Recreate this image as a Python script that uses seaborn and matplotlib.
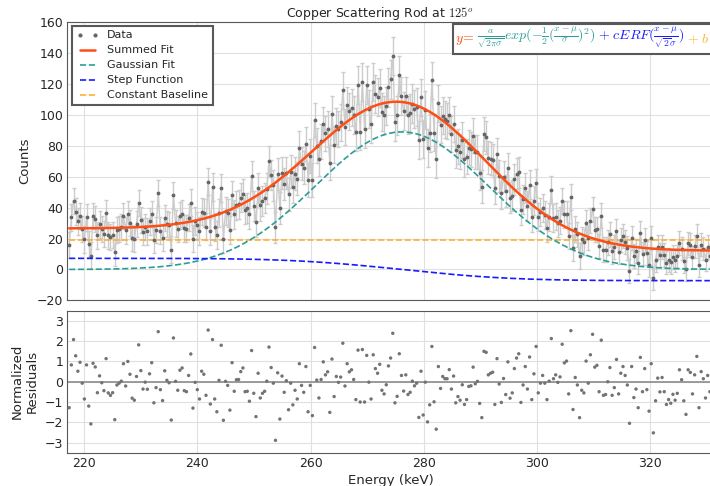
import math
import numpy as np
import matplotlib
matplotlib.use("Agg")
import matplotlib.pyplot as plt
import seaborn as sns
from matplotlib.lines import Line2D
from matplotlib.offsetbox import TextArea, HPacker, AnchoredOffsetbox

# energy of the first channel and channel width (keV)
e_start = 217.33
e_step = 0.3837

# measured counts per channel
counts = [
    15.8, 33.6, 44.2, 37.4, 31.0, 34.7, 26.0, 19.4, 33.6, 16.4,
    9.0, 34.3, 32.8, 22.0, 29.1, 26.2, 22.9, 36.2, 22.0, 20.9,
    22.2, 11.0, 25.4, 26.3, 27.2, 34.6, 25.2, 35.6, 30.2, 20.3,
    19.5, 29.5, 42.8, 32.1, 24.4, 27.4, 24.6, 31.1, 35.9, 19.1,
    25.6, 49.3, 25.1, 20.5, 33.2, 29.4, 28.5, 12.8, 47.9, 29.7,
    26.1, 34.8, 36.0, 26.5, 26.3, 33.5, 43.0, 20.0, 31.3, 28.5,
    24.8, 37.3, 36.4, 27.7, 56.7, 24.6, 53.4, 27.6, 22.3, 36.7,
    52.8, 19.7, 37.6, 36.3, 25.6,
    47.8, 35.5, 41.3, 42.1, 46.4, 49.0, 38.7, 39.7, 35.8, 60.4,
    41.0, 30.9, 52.3, 41.3, 44.4, 46.3, 52.2, 69.8, 61.0, 54.4,
    27.1, 61.7, 39.7, 62.3, 55.2, 62.1, 48.4, 63.2, 53.1, 61.9,
    58.6, 78.4, 68.2, 65.8, 80.8, 57.8, 73.2, 58.0, 96.4, 79.9,
    71.2, 82.7, 93.8, 87.8, 90.7, 69.0, 100.4, 80.3, 92.9, 90.8,
    94.9, 115.6, 91.9, 105.9, 102.2, 104.4, 99.7, 88.7, 119.0, 88.9,
    121.1, 90.5, 119.1, 103.7, 94.1, 121.3, 113.5, 111.2, 117.1, 101.8,
    99.9, 105.7, 117.5, 122.6, 137.8, 95.4,
    99.4, 125.3, 111.8, 102.2, 111.9, 99.6, 100.7, 107.1, 103.7, 104.8,
    83.5, 111.0, 84.0, 103.1, 78.5, 88.0, 122.0, 88.3, 71.2, 107.2,
    93.3, 99.2, 96.8, 95.7, 99.8, 87.4, 93.6, 77.1, 79.4, 76.1,
    83.5, 71.2, 72.7, 78.6, 77.6, 86.4, 75.9, 75.8, 62.4, 53.5,
    87.5, 85.4, 72.0, 71.4, 70.4, 52.4, 74.4, 60.1, 49.4, 60.0,
    50.6, 65.4, 46.3, 47.6, 58.2, 61.9, 62.6, 38.2, 45.2, 52.6,
    40.9, 54.7, 33.8, 44.5, 55.8, 33.7, 37.1, 39.5, 35.1, 26.8,
    34.0, 51.5, 33.2, 34.0, 29.9, 31.4,
    44.1, 35.6, 35.7, 21.5, 47.0, 13.8, 26.2, 22.6, 8.8, 19.4,
    17.7, 30.0, 20.6, 31.4, 39.0, 25.6, 25.9, 15.1, 34.8, 12.9,
    12.8, 17.5, 22.7, 11.7, 14.3, 24.8, 11.4, 19.0, 21.4, 17.8,
    14.0, -0.7, 20.6, 8.6, 11.7, 4.5, 23.3, 10.3, 18.8, 10.8,
    2.6, 20.3, -5.7, 6.3, 14.7, 9.4, 14.7, 9.3, 4.5, 6.3,
    4.9, 8.1, 5.9, 8.4, 17.1, 13.4, 5.5, 0.4, 16.9, 15.9,
    7.9, 15.0, 21.8, 2.8, 16.1, 13.4, 6.3, 14.6, 8.6,
]

# normalized residuals shown in the lower panel
residuals = [
    -1.28, 0.83, 2.08, 1.28, 0.52, 0.96, -0.07, -0.85, 0.83, -1.2,
    -2.08, 0.91, 0.73, -0.54, 0.29, -0.05, -0.44, 1.14, -0.55, -0.67,
    -0.54, -1.87, -0.16, -0.07, 0.03, 0.89, -0.21, 1.0, 0.37, -0.81,
    -0.91, 0.26, 1.82, 0.55, -0.36, -0.02, -0.37, 0.39, 0.94, -1.04,
    -0.29, 2.47, -0.39, -0.93, 0.54, 0.07, -0.05, -1.89, 2.16, 0.02,
    -0.42, 0.57, 0.68, -0.44, -0.49, 0.31, 1.37, -1.3, -0.03, -0.39,
    -0.85, 0.52, 0.37, -0.67, 2.55, -1.1, 2.08, -0.85, -1.48, 0.07,
    1.8, -1.9, 0.02, -0.18, -1.4,
    0.94, -0.47, 0.1, 0.11, 0.5, 0.68, -0.49, -0.47, -0.96, 1.54,
    -0.57, -1.72, 0.42, -0.8, -0.57, -0.47, 0.03, 1.71, 0.7, -0.07,
    -2.89, 0.44, -1.84, 0.28, -0.52, 0.05, -1.38, -0.07, -1.14, -0.42,
    -0.85, 0.89, -0.18, -0.52, 0.75, -1.48, -0.18, -1.67, 1.69, 0.08,
    -0.8, 0.11, 0.98, 0.34, 0.49, -1.51, 1.12, -0.73, 0.26, -0.03,
    0.23, 1.9, -0.21, 0.89, 0.49, 0.59, 0.11, -0.88, 1.56, -1.0,
    1.59, -1.0, 1.3, -0.02, -0.85, 1.33, 0.65, 0.42, 0.86, -0.42,
    -0.6, -0.15, 0.78, 1.17, 2.39, -1.04,
    -0.72, 1.38, 0.31, -0.46, 0.34, -0.63, -0.52, 0.03, -0.2, -0.07,
    -1.76, 0.52, -1.64, -0.02, -1.98, -1.14, 1.74, -0.99, -2.34, 0.75,
    -0.33, 0.26, 0.15, 0.15, 0.6, -0.36, 0.28, -1.04, -0.73, -0.91,
    -0.15, -1.12, -0.88, -0.23, -0.2, 0.72, -0.1, 0.02, -1.07, -1.77,
    1.5, 1.45, 0.34, 0.42, 0.47, -1.12, 1.14, -0.11, -1.02, 0.16,
    -0.63, 0.98, -0.81, -0.55, 0.65, 1.17, 1.38, -1.02, -0.16, 0.75,
    -0.36, 1.22, -0.88, 0.39, 1.74, -0.55, -0.07, 0.31, -0.07, -0.88,
    0.03, 2.13, 0.15, 0.34, -0.03, 0.24,
    1.85, 0.93, 1.02, -0.6, 2.52, -1.37, 0.21, -0.16, -1.77, -0.42,
    -0.55, 1.02, -0.07, 1.33, 2.34, 0.72, 0.81, -0.49, 2.05, -0.67,
    -0.63, 0.0, 0.7, -0.67, -0.29, 1.1, -0.6, 0.42, 0.75, 0.31,
    -0.16, -2.05, 0.75, -0.78, -0.36, -1.28, 1.2, -0.49, 0.65, -0.39,
    -1.45, 0.89, -2.52, -0.94, 0.18, -0.5, 0.21, -0.49, -1.12, -0.88,
    -1.06, -0.62, -0.91, -0.57, 0.59, 0.1, -0.94, -1.61, 0.59, 0.46,
    -0.6, 0.34, 1.25, -1.28, 0.5, 0.15, -0.8, 0.31, -0.49,
]

# fit parameters: y = a/(sqrt(2pi) sigma) exp(-1/2((x-mu)/sigma)^2) + c erf((x-mu)/(sqrt2 sigma)) + b
fit_a = 3405.0
fit_mu = 276.1
fit_sigma = 15.3
fit_c = -7.2
fit_b = 19.3
# extra variance from the subtracted background (counts^2)
bkg_var = 45.0

c_sum = "#ff4d14"
c_gauss = "#2a9d96"
c_step = "#1a1aff"
c_base = "#ffb030"

energy = e_start + e_step * np.arange(len(counts))
counts = np.array(counts)

erf = np.vectorize(math.erf)
gauss = fit_a / (np.sqrt(2 * np.pi) * fit_sigma) * np.exp(-0.5 * ((energy - fit_mu) / fit_sigma) ** 2)
step = fit_c * erf((energy - fit_mu) / (np.sqrt(2) * fit_sigma))
base = np.full_like(energy, fit_b)
total = gauss + step + base
yerr = np.sqrt(total + bkg_var)

sns.set_style("whitegrid", {"axes.edgecolor": "0.35", "grid.color": "0.88",
                            "axes.linewidth": 1.5})
plt.rcParams["mathtext.fontset"] = "cm"
plt.rcParams["font.family"] = ["DejaVu Sans"]

fig = plt.figure(figsize=(7.1, 4.86), dpi=100)
ax = fig.add_axes([0.0948, 0.3817, 0.912, 0.574])
axr = fig.add_axes([0.0948, 0.0685, 0.912, 0.292], sharex=ax)

ax.errorbar(energy, counts, yerr=yerr, color="0.8", lw=1, capsize=1.5, zorder=1)
ax.plot(energy, counts, ".", color="0.4", ms=3.5, zorder=3)
ax.plot(energy, total, color=c_sum, lw=1.8, zorder=4)
ax.plot(energy, gauss, "--", color=c_gauss, lw=1.2, zorder=4)
ax.plot(energy, step, "--", color=c_step, lw=1.2, zorder=4)
ax.plot(energy, base, "--", color=c_base, lw=1.2, zorder=2)

ax.set_xlim(217.0, 331.4)
ax.set_ylim(-20, 160)
ax.set_yticks(np.arange(-20, 161, 20))
ax.set_ylabel("Counts", fontsize=9.5, labelpad=4)
ax.tick_params(labelbottom=False, labelsize=9, pad=3, length=0)
ax.set_title(r"Copper Scattering Rod at $125^o$", fontsize=9, x=0.483, pad=3)

handles = [
    Line2D([], [], ls="", marker=".", color="0.4", ms=4),
    Line2D([], [], color=c_sum, lw=1.8),
    Line2D([], [], ls="--", color=c_gauss, lw=1.2),
    Line2D([], [], ls="--", color=c_step, lw=1.2),
    Line2D([], [], ls="--", color=c_base, lw=1.2),
]
labels = ["Data", "Summed Fit", "Gaussian Fit", "Step Function", "Constant Baseline"]
leg = ax.legend(handles, labels, loc="upper left", fontsize=8, numpoints=2,
                fancybox=False, framealpha=1, handlelength=2.0,
                borderaxespad=0.4, labelspacing=0.45)
leg.get_frame().set_edgecolor("0.35")
leg.get_frame().set_linewidth(1.5)

parts = [
    (r"$y\!=$", c_sum),
    (r"$\frac{a}{\sqrt{2\pi\sigma}}exp(-\frac{1}{2}(\frac{x-\mu}{\sigma})^2)$", c_gauss),
    (r"$+\ cERF(\frac{x-\mu}{\sqrt{2}\sigma})$", c_step),
    (r"$+\ b$", c_base),
]
boxes = [TextArea(t, textprops=dict(color=c, fontsize=10)) for t, c in parts]
pack = HPacker(children=boxes, align="center", pad=0, sep=2)
formula = AnchoredOffsetbox(loc="upper left", child=pack, pad=0.12, borderpad=0,
                            frameon=True, bbox_to_anchor=(0.596, 0.99),
                            bbox_transform=ax.transAxes)
formula.patch.set_edgecolor("0.35")
formula.patch.set_linewidth(1.5)
ax.add_artist(formula)

sns.scatterplot(x=energy, y=residuals, ax=axr, color="0.45", s=6, marker="o",
                edgecolor="none", zorder=3)
axr.axhline(0, color="0.55", lw=1.2, zorder=2)
axr.set_ylim(-3.5, 3.5)
axr.set_yticks(np.arange(-3, 4, 1))
axr.set_ylabel("Normalized\nResiduals", fontsize=9.5)
axr.set_xlabel("Energy (keV)", fontsize=9.5, labelpad=3)
axr.set_xticks(np.arange(220, 331, 20))
axr.tick_params(labelsize=9, pad=3, length=0)

fig.savefig("out.png", dpi=100)
